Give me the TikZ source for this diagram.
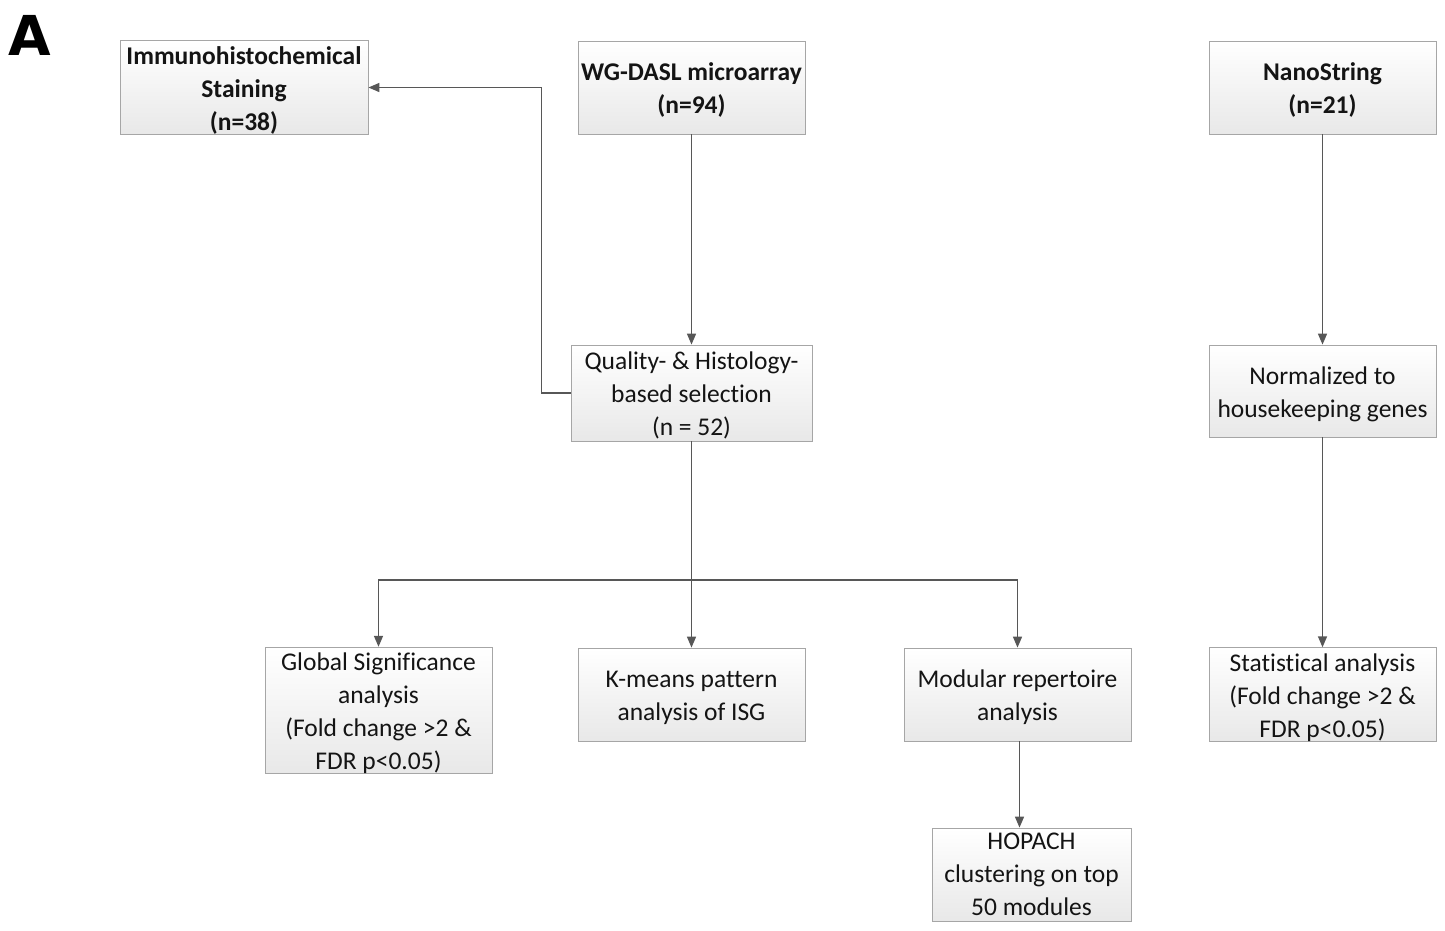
\documentclass[tikz,border=0pt]{standalone}
\usepackage{fontspec}
\setmainfont{Carlito}[Ligatures={NoCommon}]
\newfontfamily\labelfont{DejaVu Sans}
\usetikzlibrary{arrows.meta}
\newcommand\firstln{\rule{0pt}{23.5pt}}
\begin{document}
\begin{tikzpicture}[x=1pt,y=-1pt,
  box/.style={draw=black!35, line width=0.8pt, top color=white, bottom color=black!9,
    align=center, font=\fontsize{25.5}{33}\selectfont, inner sep=0pt, text=black!92},
  bbox/.style={box, font=\fontsize{25.5}{33}\selectfont\bfseries},
  conn/.style={draw=black!66, line width=1.5pt},
  arr/.style={conn, -{Triangle[length=11pt,width=9pt]}}
]
\path[use as bounding box] (0,0) rectangle (1445,930);

\node[font=\labelfont\bfseries\fontsize{55}{60}\selectfont, anchor=base west, inner sep=0pt] (lab) at (8,55) {A};

\node[bbox, minimum width=248pt, minimum height=93pt] (ihc) at (244,87.5)
  {\firstln Immunohistochemical\\Staining\\(n=38)};
\node[bbox, minimum width=227pt, minimum height=93pt] (wg) at (691.5,87.5)
  {\firstln WG-DASL microarray\\(n=94)};
\node[bbox, minimum width=227pt, minimum height=93pt] (nano) at (1322.5,87.5)
  {\firstln NanoString\\(n=21)};

\node[box, minimum width=241pt, minimum height=96pt] (qual) at (691.5,393)
  {\firstln Quality- \& Histology-\\based selection\\(n = 52)};
\node[box, minimum width=227pt, minimum height=92pt] (norm) at (1322.5,391)
  {\firstln Normalized to\\housekeeping genes};

\node[box, minimum width=227pt, minimum height=125pt] (glob) at (378.5,710.5)
  {\firstln Global Significance\\analysis\\(Fold change >2 \&\\FDR p<0.05)};
\node[box, minimum width=227pt, minimum height=93pt] (kmeans) at (691.5,694.5)
  {\firstln K-means pattern\\analysis of ISG};
\node[box, minimum width=227pt, minimum height=93pt] (mod) at (1017.5,694.5)
  {\firstln Modular repertoire\\analysis};
\node[box, minimum width=227pt, minimum height=93pt] (stat) at (1322.5,694.5)
  {\firstln Statistical analysis\\(Fold change >2 \&\\FDR p<0.05)};
\node[box, minimum width=199pt, minimum height=93pt] (hop) at (1031.5,874.5)
  {HOPACH\\clustering on top\\50 modules};

\coordinate (split) at (691.5,580);

\draw[arr] (wg) -- (qual);
\draw[arr] (qual.west) -- ++(-29,0) |- (ihc.east);
\draw[conn] (qual.south) -- (split);
\draw[arr] (split) -| (glob.north);
\draw[arr] (split) -- (kmeans.north);
\draw[arr] (split) -| (mod.north);
\draw[arr] ([xshift=2pt]mod.south) -- ([xshift=2pt]mod.south |- hop.north);
\draw[arr] (nano) -- (norm);
\draw[arr] (norm) -- (stat);
\end{tikzpicture}
\end{document}
